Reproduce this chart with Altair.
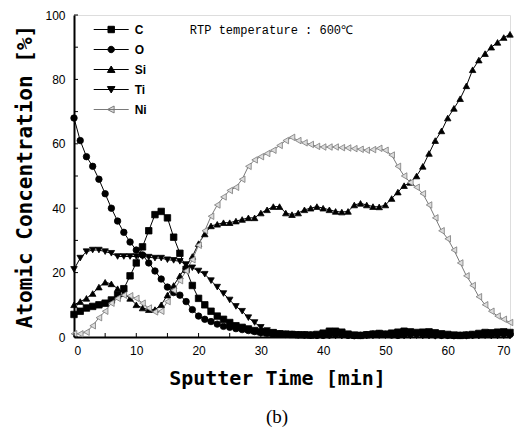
import altair as alt
import pandas as pd

# ---------------- data ----------------
time = list(range(71))

c_vals = [7, 8, 9, 9.5, 10, 10.5, 11.5, 13, 15, 19,
          23, 28, 33, 38, 39, 37, 31, 26, 21, 16,
          12, 10, 8, 6.5, 5.5, 4.5, 3.5, 3, 2.5, 2,
          1.6, 1.3, 1.1, 1, 0.9, 0.8, 0.7, 0.7, 0.6, 0.8,
          1.2, 1.8, 1.8, 1.5, 0.9, 0.6, 0.5, 0.7, 0.9, 1.1,
          0.9, 1.2, 1.5, 1.8, 1.6, 1.4, 1.5, 1.6, 1.3, 1,
          0.8, 0.6, 0.5, 0.6, 0.8, 1.1, 1.4, 1.3, 1.5, 1.6,
          1.4]

o_vals = [68, 61, 56, 53, 49, 44.5, 40, 36, 32.5, 29.5,
          27, 25.5, 23, 20.5, 18, 15.5, 13.8, 13, 11, 8.5,
          6.5, 5.5, 4.8, 4, 3.3, 3, 2.6, 2.3, 2, 1.7,
          1.4, 1.2, 1.0, 0.9, 0.8, 0.8, 0.7, 0.6, 0.6, 0.5,
          0.5, 0.6, 0.8, 0.7, 0.5, 0.4, 0.5, 0.7, 0.9, 1.0,
          0.8, 0.6, 0.5, 0.7, 0.9, 1.0, 0.8, 0.7, 0.6, 0.5,
          0.5, 0.4, 0.5, 0.6, 0.6, 0.7, 0.8, 0.7, 0.9, 1.0,
          0.8]

si_vals = [10, 11, 12, 13.5, 15.5, 17, 16.5, 15, 13.5, 12,
           10, 9, 8.5, 8.5, 10, 13, 16, 19, 22, 25,
           29, 32, 34.5, 35, 35.5, 35.5, 36, 36.5, 37, 37,
           38.5, 39.5, 40.5, 40.5, 38.5, 38, 38.5, 39.5, 40, 40.5,
           40, 39.5, 39, 38.8, 39, 41, 41.5, 41, 40.5, 40.4,
           41, 43, 45, 47, 48, 50, 53, 57, 61, 64,
           68, 71, 74, 78, 83, 86, 88, 90, 91.5, 93,
           94]

ti_vals = [21, 24.5, 26.5, 27, 27, 26.5, 26, 25, 25, 25,
           25, 25, 24.8, 24.5, 24.5, 24, 23.8, 23.5, 22.5, 21.5,
           20.5, 19.5, 17.5, 15.5, 13.5, 11.5, 9.5, 8, 6, 4.5,
           3, 2, 1.5, 1, 0.8, 0.6, 0.5, 0.5, 0.4, 0.4,
           0.5, 0.4, 0.3, 0.3, 0.4, 0.5, 0.4, 0.3, 0.3, 0.4,
           0.4, 0.5, 0.4, 0.3, 0.3, 0.4, 0.3, 0.3, 0.2, 0.3,
           0.3, 0.4, 0.3, 0.2, 0.3, 0.3, 0.4, 0.3, 0.3, 0.4,
           0.3]

ni_vals = [1, 1, 1.5, 3.5, 6, 8, 10.5, 12, 13, 12.8,
           12, 10.5, 9, 7.8, 8, 11, 14.5, 17.5, 20.5, 24,
           28.5, 33, 37.5, 41, 43.5, 45.5, 46.5, 49, 53, 55,
           56, 57, 58, 59.5, 61, 62, 61, 60.3, 59.8, 59.2,
           59, 59, 59, 58.8, 58.7, 58.5, 58.3, 58, 58.2, 58.6,
           58, 56.5, 53, 50, 48, 46.5, 44.5, 41, 37, 33,
           30.5, 27, 23, 19, 16, 12.5, 10, 8, 6.5, 5.5,
           4.5]

series_names = ["C", "O", "Si", "Ti", "Ni"]
series_values = [c_vals, o_vals, si_vals, ti_vals, ni_vals]

x_tick_labels = [0, 10, 20, 30, 40, 50, 60, 70]
y_tick_labels = [0, 20, 40, 60, 80, 100]
x_minor_ticks = list(range(0, 71, 5))
y_minor_ticks = list(range(0, 101, 10))

note_text = "RTP temperature : 600\u2103"
note_t = [18.6]
note_c = [95.3]

# ---------------- styles ----------------
plot_shapes = ["square", "circle", "triangle-up", "triangle-down", "triangle-left"]
legend_shapes = [
    "M-3,0H3M-0.55,-0.55H0.55V0.55H-0.55Z",
    "M-3,0H3M0.55,0A0.55,0.55,0,1,1,-0.55,0A0.55,0.55,0,1,1,0.55,0Z",
    "M-3,0H3M0,-0.6L0.65,0.5H-0.65Z",
    "M-3,0H3M0,0.6L0.65,-0.5H-0.65Z",
    "M-3,0H3M-0.65,0L0.5,-0.6V0.6Z",
]
fill_colors = ["#000000", "#000000", "#000000", "#000000", "#dcdcdc"]
stroke_colors = ["#000000", "#000000", "#000000", "#000000", "#7a7a7a"]

rows = []
for name, vals in zip(series_names, series_values):
    for t, v in zip(time, vals):
        rows.append({"t": t, "conc": v, "series": name})
df = pd.DataFrame(rows)

W, H = 436, 322

xs = alt.Scale(domain=[0, 70], nice=False, zero=False)
ys = alt.Scale(domain=[0, 100], nice=False)

x_enc = alt.X("t:Q", scale=xs, axis=alt.Axis(
    values=x_tick_labels, title="Sputter Time [min]", ticks=False, tickSize=0,
    grid=False, domainColor="black", domainWidth=2,
    labelFont="Liberation Sans", labelFontSize=12, labelColor="black", labelPadding=8,
    titleFont="DejaVu Sans Mono", titleFontSize=20, titleFontWeight="bold",
    titleColor="black", titlePadding=12, titleX=203))
y_enc = alt.Y("conc:Q", scale=ys, axis=alt.Axis(
    values=y_tick_labels, title="Atomic Concentration [%]", ticks=False, tickSize=0,
    grid=False, domainColor="black", domainWidth=2,
    labelFont="Liberation Sans", labelFontSize=12, labelColor="black", labelPadding=9,
    titleFont="DejaVu Sans Mono", titleFontSize=21, titleFontWeight="bold",
    titleColor="black", titlePadding=9))

sdom = series_names

lines = alt.Chart(df).mark_line(strokeWidth=1).encode(
    x=x_enc, y=y_enc,
    stroke=alt.Stroke("series:N", scale=alt.Scale(domain=sdom, range=stroke_colors), legend=None),
    detail="series:N",
)

points = alt.Chart(df).mark_point(filled=True, size=42, strokeWidth=0.8, opacity=1).encode(
    x=x_enc, y=y_enc,
    shape=alt.Shape("series:N", scale=alt.Scale(domain=sdom, range=plot_shapes), legend=None),
    fill=alt.Fill("series:N", scale=alt.Scale(domain=sdom, range=fill_colors), legend=None),
    stroke=alt.Stroke("series:N", scale=alt.Scale(domain=sdom, range=stroke_colors), legend=None),
)

leg = alt.Legend(title=None, orient="none", legendX=19, legendY=8, padding=0,
                 symbolSize=136, symbolStrokeWidth=1, symbolOffset=11.7,
                 labelOffset=17, rowPadding=7,
                 labelFont="Liberation Sans", labelFontSize=12, labelFontWeight="bold",
                 labelColor="black")

legend_layer = alt.Chart(df).transform_filter("datum.t < 0").mark_point(
    filled=True, strokeWidth=1, opacity=1).encode(
    x=x_enc, y=y_enc,
    shape=alt.Shape("series:N", scale=alt.Scale(domain=sdom, range=legend_shapes), legend=leg),
    fill=alt.Fill("series:N", scale=alt.Scale(domain=sdom, range=fill_colors), legend=leg),
    stroke=alt.Stroke("series:N", scale=alt.Scale(domain=sdom, range=stroke_colors), legend=leg),
)

xt_df = pd.DataFrame({"t": x_minor_ticks})
yt_df = pd.DataFrame({"conc": y_minor_ticks})

x_ticks_layer = alt.Chart(xt_df).mark_rule(color="black", strokeWidth=1).encode(
    x=x_enc, y=alt.value(H), y2=alt.value(H - 4))
y_ticks_layer = alt.Chart(yt_df).mark_rule(color="black", strokeWidth=1).encode(
    y=y_enc, x=alt.value(0), x2=alt.value(4))

note_df = pd.DataFrame({"t": note_t, "conc": note_c, "label": [note_text]})
note = alt.Chart(note_df).mark_text(
    align="left", baseline="middle", font="Liberation Mono", fontSize=12, color="black"
).encode(x=x_enc, y=y_enc, text="label:N")

chart = alt.layer(
    lines, points, x_ticks_layer, y_ticks_layer, note, legend_layer
).resolve_scale(
    shape="independent", fill="independent", stroke="independent"
).properties(
    width=W, height=H,
    autosize=alt.AutoSizeParams(type="none"),
    padding={"left": 66, "top": 7, "right": 9, "bottom": 90},
    title=alt.Title("(b)", orient="bottom", font="Liberation Serif", fontSize=19,
                    fontWeight="normal", color="black", offset=20, dx=-15),
).configure_view(stroke="black", strokeWidth=1.2).configure(background="white")

chart.save("out.html", embed_options={"renderer": "svg", "actions": False})
